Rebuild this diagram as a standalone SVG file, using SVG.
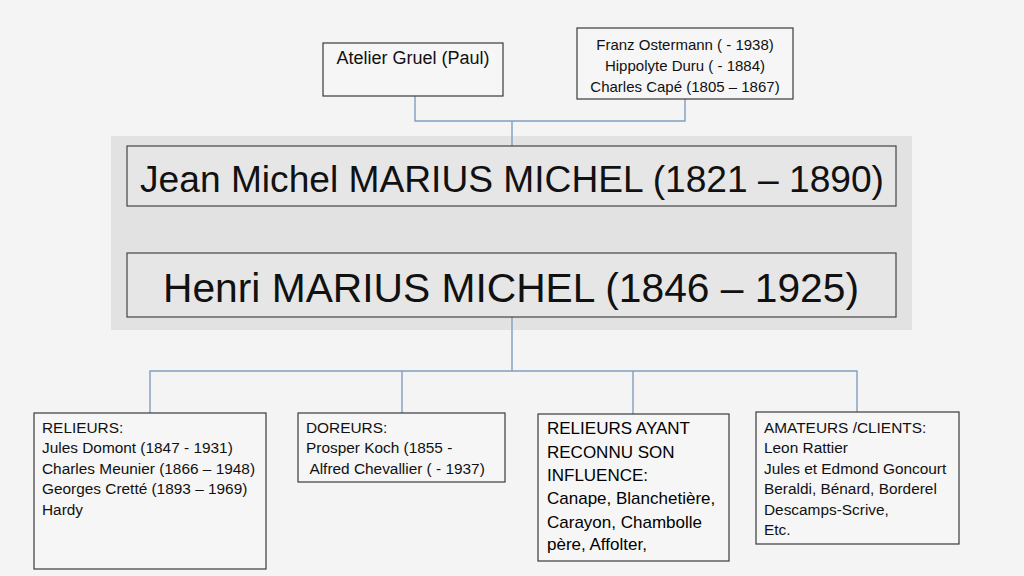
<svg xmlns="http://www.w3.org/2000/svg" width="1024" height="576" viewBox="0 0 1024 576">
<style>
.bg{fill:#f4f4f4}
.box{fill:#f6f6f6;stroke:#3a3a3a;stroke-width:1.2}
.big{fill:#e6e6e6;stroke:#444;stroke-width:1.2}
.t{font-family:"Liberation Sans",Arial,sans-serif;font-size:15.4px;fill:#111}
.t2{font-family:"Liberation Sans",Arial,sans-serif;font-size:17px;fill:#000}
.ta{font-family:"Liberation Sans",Arial,sans-serif;font-size:18px;fill:#111}
.tf{font-family:"Liberation Sans",Arial,sans-serif;font-size:15px;fill:#111}
.h{font-family:"Liberation Sans",Arial,sans-serif;fill:#111}
.c{fill:none;stroke:#7f9fbf;stroke-width:1.4}
</style>
<rect class="bg" x="0" y="0" width="1024" height="576"/>
<rect x="111" y="136" width="801" height="194" fill="#e2e2e2"/>
<g id="connectors">
<polyline class="c" points="415,96 415,121 685,121 685,99"/>
<line class="c" x1="512" y1="121" x2="512" y2="146"/>
<line class="c" x1="512" y1="317" x2="512" y2="371"/>
<polyline class="c" points="150,413 150,371 857,371 857,412"/>
<line class="c" x1="402" y1="371" x2="402" y2="413"/>
<line class="c" x1="633" y1="371" x2="633" y2="414"/>
</g>
<g id="atelier">
<rect class="box" x="323" y="43" width="180" height="53"/>
<text class="ta" x="413" y="64" text-anchor="middle">Atelier Gruel (Paul)</text>
</g>
<g id="maitres">
<rect class="box" x="577" y="28" width="216" height="71"/>
<text class="tf" x="685" y="50" text-anchor="middle">Franz Ostermann ( - 1938)</text>
<text class="tf" x="685" y="71" text-anchor="middle">Hippolyte Duru ( - 1884)</text>
<text class="tf" x="685" y="92" text-anchor="middle">Charles Capé (1805 – 1867)</text>
</g>
<g id="jean">
<rect class="big" x="127" y="146" width="769" height="60"/>
<text class="h" x="512" y="192" font-size="37" text-anchor="middle" textLength="744" lengthAdjust="spacingAndGlyphs">Jean Michel MARIUS MICHEL (1821 – 1890)</text>
</g>
<g id="henri">
<rect class="big" x="127" y="253" width="769" height="64"/>
<text class="h" x="511" y="302" font-size="41" text-anchor="middle" textLength="696" lengthAdjust="spacingAndGlyphs">Henri MARIUS MICHEL (1846 – 1925)</text>
</g>
<g id="relieurs">
<rect class="box" x="34" y="413" width="232" height="156"/>
<text class="t" x="42" y="433">RELIEURS:</text>
<text class="t" x="42" y="453">Jules Domont (1847 - 1931)</text>
<text class="t" x="42" y="474">Charles Meunier (1866 – 1948)</text>
<text class="t" x="42" y="494">Georges Cretté (1893 – 1969)</text>
<text class="t" x="42" y="515">Hardy</text>
</g>
<g id="doreurs">
<rect class="box" x="298" y="413" width="207" height="69"/>
<text class="t" x="306" y="433">DOREURS:</text>
<text class="t" x="306" y="453">Prosper Koch (1855 -</text>
<text class="t" x="306" y="474" xml:space="preserve"> Alfred Chevallier ( - 1937)</text>
</g>
<g id="influence">
<rect class="box" x="538" y="414" width="191" height="147"/>
<text class="t2" x="547" y="434">RELIEURS AYANT</text>
<text class="t2" x="547" y="458">RECONNU SON</text>
<text class="t2" x="547" y="481">INFLUENCE:</text>
<text class="t2" x="547" y="504">Canape, Blanchetière,</text>
<text class="t2" x="547" y="528">Carayon, Chambolle</text>
<text class="t2" x="547" y="550">père, Affolter,</text>
</g>
<g id="amateurs">
<rect class="box" x="756" y="412" width="203" height="132"/>
<text class="t" x="764" y="433">AMATEURS /CLIENTS:</text>
<text class="t" x="764" y="453">Leon Rattier</text>
<text class="t" x="764" y="474">Jules et Edmond Goncourt</text>
<text class="t" x="764" y="494">Beraldi, Bénard, Borderel</text>
<text class="t" x="764" y="515">Descamps-Scrive,</text>
<text class="t" x="764" y="535">Etc.</text>
</g>
</svg>
